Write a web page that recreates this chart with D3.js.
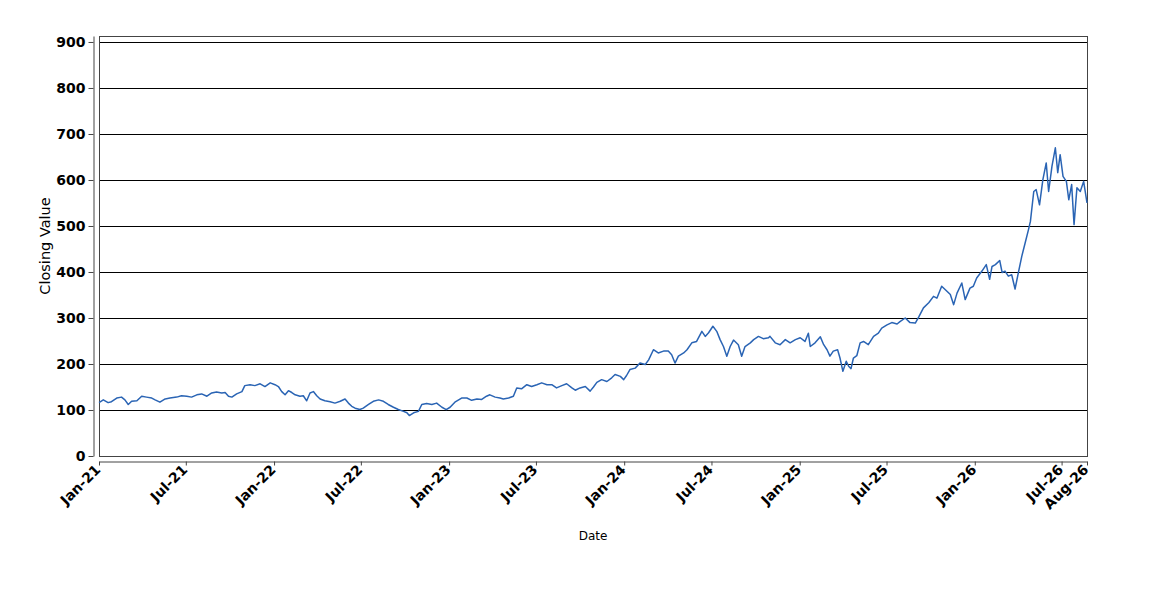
<!DOCTYPE html>
<html>
<head>
<meta charset="utf-8">
<script src="https://cdn.jsdelivr.net/npm/d3@7"></script>
<style>
  body { margin: 0; background: #fff; }
  svg { display: block; font-family: "DejaVu Sans", sans-serif; }
</style>
</head>
<body>
<svg width="1150" height="600"></svg>
<script>
// Closing values, one pair per reading
const dates = [
  "2021-01-01","2021-01-10","2021-01-20","2021-01-27","2021-02-07","2021-02-17","2021-02-24","2021-03-03",
  "2021-03-10","2021-03-21","2021-03-31","2021-04-10","2021-04-21","2021-04-28","2021-05-08","2021-05-19",
  "2021-05-29","2021-06-12","2021-06-22","2021-07-03","2021-07-13","2021-07-24","2021-08-03","2021-08-14",
  "2021-08-24","2021-09-03","2021-09-14","2021-09-21","2021-09-28","2021-10-05","2021-10-15","2021-10-26",
  "2021-11-01","2021-11-12","2021-11-22","2021-12-03","2021-12-13","2021-12-24","2022-01-03","2022-01-10",
  "2022-01-17","2022-01-24","2022-01-31","2022-02-07","2022-02-14","2022-02-24","2022-03-03","2022-03-10",
  "2022-03-17","2022-03-24","2022-03-31","2022-04-07","2022-04-17","2022-04-28","2022-05-08","2022-05-19",
  "2022-05-29","2022-06-05","2022-06-12","2022-06-19","2022-06-29","2022-07-06","2022-07-17","2022-07-27",
  "2022-08-07","2022-08-17","2022-08-27","2022-09-07","2022-09-17","2022-09-28","2022-10-05","2022-10-10",
  "2022-10-19","2022-10-29","2022-11-05","2022-11-15","2022-11-26","2022-12-06","2022-12-17","2022-12-26",
  "2023-01-03","2023-01-13","2023-01-27","2023-02-07","2023-02-17","2023-02-28","2023-03-10","2023-03-20",
  "2023-03-27","2023-04-07","2023-04-17","2023-04-24","2023-05-05","2023-05-15","2023-05-22","2023-06-01",
  "2023-06-12","2023-06-22","2023-07-03","2023-07-13","2023-07-24","2023-08-03","2023-08-13","2023-08-24",
  "2023-09-03","2023-09-14","2023-09-21","2023-10-01","2023-10-12","2023-10-22","2023-10-29","2023-11-05",
  "2023-11-15","2023-11-26","2023-12-06","2023-12-13","2023-12-24","2023-12-31","2024-01-06","2024-01-13",
  "2024-01-24","2024-02-03","2024-02-14","2024-02-21","2024-03-02","2024-03-12","2024-03-23","2024-04-02",
  "2024-04-09","2024-04-16","2024-04-23","2024-05-04","2024-05-11","2024-05-21","2024-05-31","2024-06-11",
  "2024-06-18","2024-06-25","2024-07-04","2024-07-12","2024-07-19","2024-07-26","2024-08-02","2024-08-09",
  "2024-08-16","2024-08-26","2024-09-02","2024-09-09","2024-09-20","2024-09-27","2024-10-07","2024-10-17",
  "2024-10-28","2024-10-31","2024-11-11","2024-11-21","2024-12-02","2024-12-12","2024-12-23","2025-01-02",
  "2025-01-12","2025-01-19","2025-01-23","2025-02-02","2025-02-13","2025-02-20","2025-02-27","2025-03-05",
  "2025-03-12","2025-03-21","2025-03-26","2025-04-01","2025-04-08","2025-04-13","2025-04-18","2025-04-23",
  "2025-04-30","2025-05-07","2025-05-14","2025-05-24","2025-06-04","2025-06-14","2025-06-21","2025-07-02",
  "2025-07-12","2025-07-23","2025-07-29","2025-08-09","2025-08-19","2025-08-30","2025-09-06","2025-09-16",
  "2025-09-27","2025-10-07","2025-10-14","2025-10-24","2025-11-04","2025-11-11","2025-11-18","2025-11-25",
  "2025-12-05","2025-12-12","2025-12-22","2025-12-29","2026-01-05","2026-01-16","2026-01-25","2026-02-01",
  "2026-02-06","2026-02-13","2026-02-22","2026-02-27","2026-03-05","2026-03-12","2026-03-19","2026-03-26",
  "2026-04-02","2026-04-09","2026-04-16","2026-04-23","2026-04-27","2026-05-04","2026-05-09","2026-05-16",
  "2026-05-23","2026-05-30","2026-06-04","2026-06-11","2026-06-18","2026-06-23","2026-06-28","2026-07-04",
  "2026-07-11","2026-07-16","2026-07-22","2026-07-27","2026-08-02","2026-08-09","2026-08-16","2026-08-23"
];
const closes = [
  116, 122, 116, 118, 126, 128, 122, 112,
  119, 120, 130, 128, 126, 122, 117, 124,
  126, 128, 131, 130, 128, 133, 135, 130,
  137, 139, 137, 138, 130, 128, 135, 140,
  153, 155, 153, 157, 151, 159, 155, 151,
  140, 133, 142, 138, 133, 130, 131, 120,
  137, 140, 131, 124, 120, 118, 115, 119,
  124, 115, 108, 104, 101, 104, 112, 119,
  122, 119, 112, 106, 101, 97, 94, 88,
  94, 97, 112, 114, 112, 115, 106, 101,
  106, 117, 126, 126, 121, 124, 123, 130,
  133, 128, 126, 124, 126, 130, 148, 146,
  155, 151, 155, 159, 155, 155, 148, 153,
  157, 148, 143, 148, 151, 141, 150, 160,
  166, 162, 170, 177, 173, 166, 175, 188,
  191, 202, 199, 209, 231, 224, 228, 228,
  220, 202, 217, 224, 231, 246, 249, 271,
  260, 268, 282, 271, 253, 238, 217, 238,
  252, 242, 217, 238, 246, 253, 260, 255,
  257, 260, 246, 242, 253, 246, 253, 257,
  249, 267, 238, 246, 259, 242, 231, 217,
  228, 231, 213, 184, 206, 195, 190, 213,
  218, 246, 249, 242, 260, 267, 278, 285,
  290, 287, 292, 300, 290, 289, 302, 322,
  333, 347, 343, 369, 358, 351, 329, 354,
  376, 340, 365, 369, 387, 402, 416, 384,
  412, 416, 425, 399, 402, 391, 394, 363,
  399, 434, 463, 492, 510, 575, 579, 546,
  601, 637, 575, 630, 670, 616, 655, 608,
  597, 557, 590, 503, 583, 575, 597, 550
];
const yTicks = [0, 100, 200, 300, 400, 500, 600, 700, 800, 900];
const yMax = 913;

const width = 1150;
const height = 600;
const margin = { top: 36, right: 63, bottom: 144, left: 99 };
const plotW = width - margin.left - margin.right;
const plotH = height - margin.top - margin.bottom;

const parse = d3.timeParse("%Y-%m-%d");
const data = dates.map((d, i) => ({ date: parse(d), value: closes[i] }));

const svg = d3.select("svg");

const x = d3.scaleTime()
    .domain(d3.extent(data, d => d.date))
    .range([margin.left, margin.left + plotW]);

const y = d3.scaleLinear()
    .domain([0, yMax])
    .range([margin.top + plotH, margin.top]);

// six-monthly ticks plus the last date
const xTicks = d3.timeMonth.every(6).range(x.domain()[0], x.domain()[1]);
xTicks.push(x.domain()[1]);

// horizontal grid
svg.append("g")
    .selectAll("line")
    .data(yTicks.filter(v => v > 0))
    .enter()
    .append("line")
    .attr("x1", margin.left)
    .attr("x2", margin.left + plotW)
    .attr("y1", d => Math.round(y(d)) + 0.5)
    .attr("y2", d => Math.round(y(d)) + 0.5)
    .style("stroke", "#000")
    .style("stroke-width", 1);

// plot frame
svg.append("rect")
    .attr("x", margin.left + 0.5)
    .attr("y", margin.top + 0.5)
    .attr("width", plotW)
    .attr("height", plotH)
    .style("fill", "none")
    .style("stroke", "#444")
    .style("stroke-width", 1);

// closing value line
svg.append("path")
    .datum(data)
    .attr("d", d3.line().x(d => x(d.date)).y(d => y(d.value)))
    .style("fill", "none")
    .style("stroke", "#2a64b4")
    .style("stroke-width", 1.5)
    .style("stroke-linejoin", "round");

// y axis, set off from the frame
const yAxis = svg.append("g")
    .attr("transform", `translate(${margin.left - 5.5},0)`)
    .call(d3.axisLeft(y).tickValues(yTicks).tickSize(5).tickSizeOuter(0).tickPadding(3));

yAxis.selectAll("text")
    .style("font-family", "DejaVu Sans, sans-serif")
    .style("font-size", "14px")
    .style("font-weight", "bold")
    .style("fill", "#000");

// x axis, set off below the frame
const xAxis = svg.append("g")
    .attr("transform", `translate(0,${margin.top + plotH + 5.5})`)
    .call(d3.axisBottom(x)
        .tickValues(xTicks)
        .tickFormat(d3.timeFormat("%b-%y"))
        .tickSize(4)
        .tickSizeOuter(0));

xAxis.selectAll("text")
    .attr("x", 0)
    .attr("y", 0)
    .attr("dy", 0)
    .attr("transform", "translate(2,9) rotate(-45)")
    .style("text-anchor", "end")
    .style("font-family", "DejaVu Sans, sans-serif")
    .style("font-size", "14px")
    .style("font-weight", "bold")
    .style("fill", "#000");

svg.selectAll(".domain, .tick line").style("stroke", "#444");

// axis titles
svg.append("text")
    .attr("transform", `translate(50,${margin.top + plotH / 2}) rotate(-90)`)
    .style("text-anchor", "middle")
    .style("font-size", "14.5px")
    .style("fill", "#000")
    .text("Closing Value");

svg.append("text")
    .attr("x", margin.left + plotW / 2)
    .attr("y", 540)
    .style("text-anchor", "middle")
    .style("font-size", "12px")
    .style("fill", "#000")
    .text("Date");
</script>
</body>
</html>
